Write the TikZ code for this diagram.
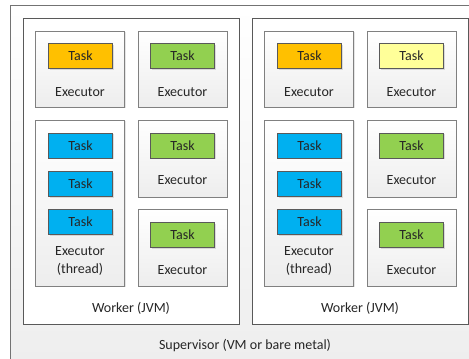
\documentclass[tikz,border=0pt]{standalone}
\usepackage{fontspec}
\setmainfont{Carlito}
\usetikzlibrary{shadows}
\definecolor{taskorange}{HTML}{FFC000}
\definecolor{taskgreen}{HTML}{92D050}
\definecolor{taskblue}{HTML}{00B0F0}
\definecolor{taskyellow}{HTML}{FFFF99}

\begin{document}
\begin{tikzpicture}[x=1pt, y=-1pt,
    every node/.style={font=\fontsize{14}{18}\selectfont, text=black!85, inner sep=0pt},
    worker/.style={draw=black!65, fill=white, minimum width=216pt, minimum height=306pt},
    executor/.style={draw=black!50, top color=white, bottom color=black!7, minimum width=89pt,
        drop shadow={opacity=0.2, shadow xshift=1pt, shadow yshift=-1pt}},
    task/.style={draw=black!65, minimum width=64pt, minimum height=25pt,
        drop shadow={opacity=0.25, shadow xshift=1pt, shadow yshift=-1pt}}]
                \useasboundingbox (0,0) rectangle (469,359);
                \clip (0,0) rectangle (469,359);
                \path[draw=black!55, top color=white, bottom color=black!7] (10,5) rectangle (490,380);
                \node (S) at (245,346) {Supervisor (VM or bare metal)};
                \foreach \w/\dx/\tb in {1/0/taskgreen, 2/229/taskyellow} {
                    \begin{scope}[xshift=\dx]
                        \node[worker] (W\w) at (131,171) {};
                        \node (LW\w) at (131,308) {Worker (JVM)};
                        % executors
                        \node[executor, minimum height=76pt] (Ea\w) at (80,69) {};
                        \node[executor, minimum height=76pt] (Eb\w) at (182.5,69) {};
                        \node[executor, minimum height=166pt] (Ec\w) at (80,203) {};
                        \node[executor, minimum height=77pt] (Ed\w) at (182.5,158.5) {};
                        \node[executor, minimum height=77pt] (Ee\w) at (182.5,247.5) {};
                        \node (La\w) at (80,92) {Executor};
                        \node (Lb\w) at (182.5,92) {Executor};
                        \node[align=center] (Lc\w) at (80,261) {Executor\\(thread)};
                        \node (Ld\w) at (182.5,180) {Executor};
                        \node (Le\w) at (182.5,270) {Executor};
                        % tasks
                        \node[task, fill=taskorange] (Ta\w) at (80.5,56) {Task};
                        \node[task, fill=\tb] (Tb\w) at (182.5,56) {Task};
                        \foreach \k/\y in {1/145.5, 2/184, 3/222} {
                            \node[task, fill=taskblue] (Tc\w\k) at (80.5,\y) {Task};
                        }
                        \node[task, fill=taskgreen] (Td\w) at (182.5,145.5) {Task};
                        \node[task, fill=taskgreen] (Te\w) at (182.5,235) {Task};
                    \end{scope}
                }
            \end{tikzpicture}
\end{document}
